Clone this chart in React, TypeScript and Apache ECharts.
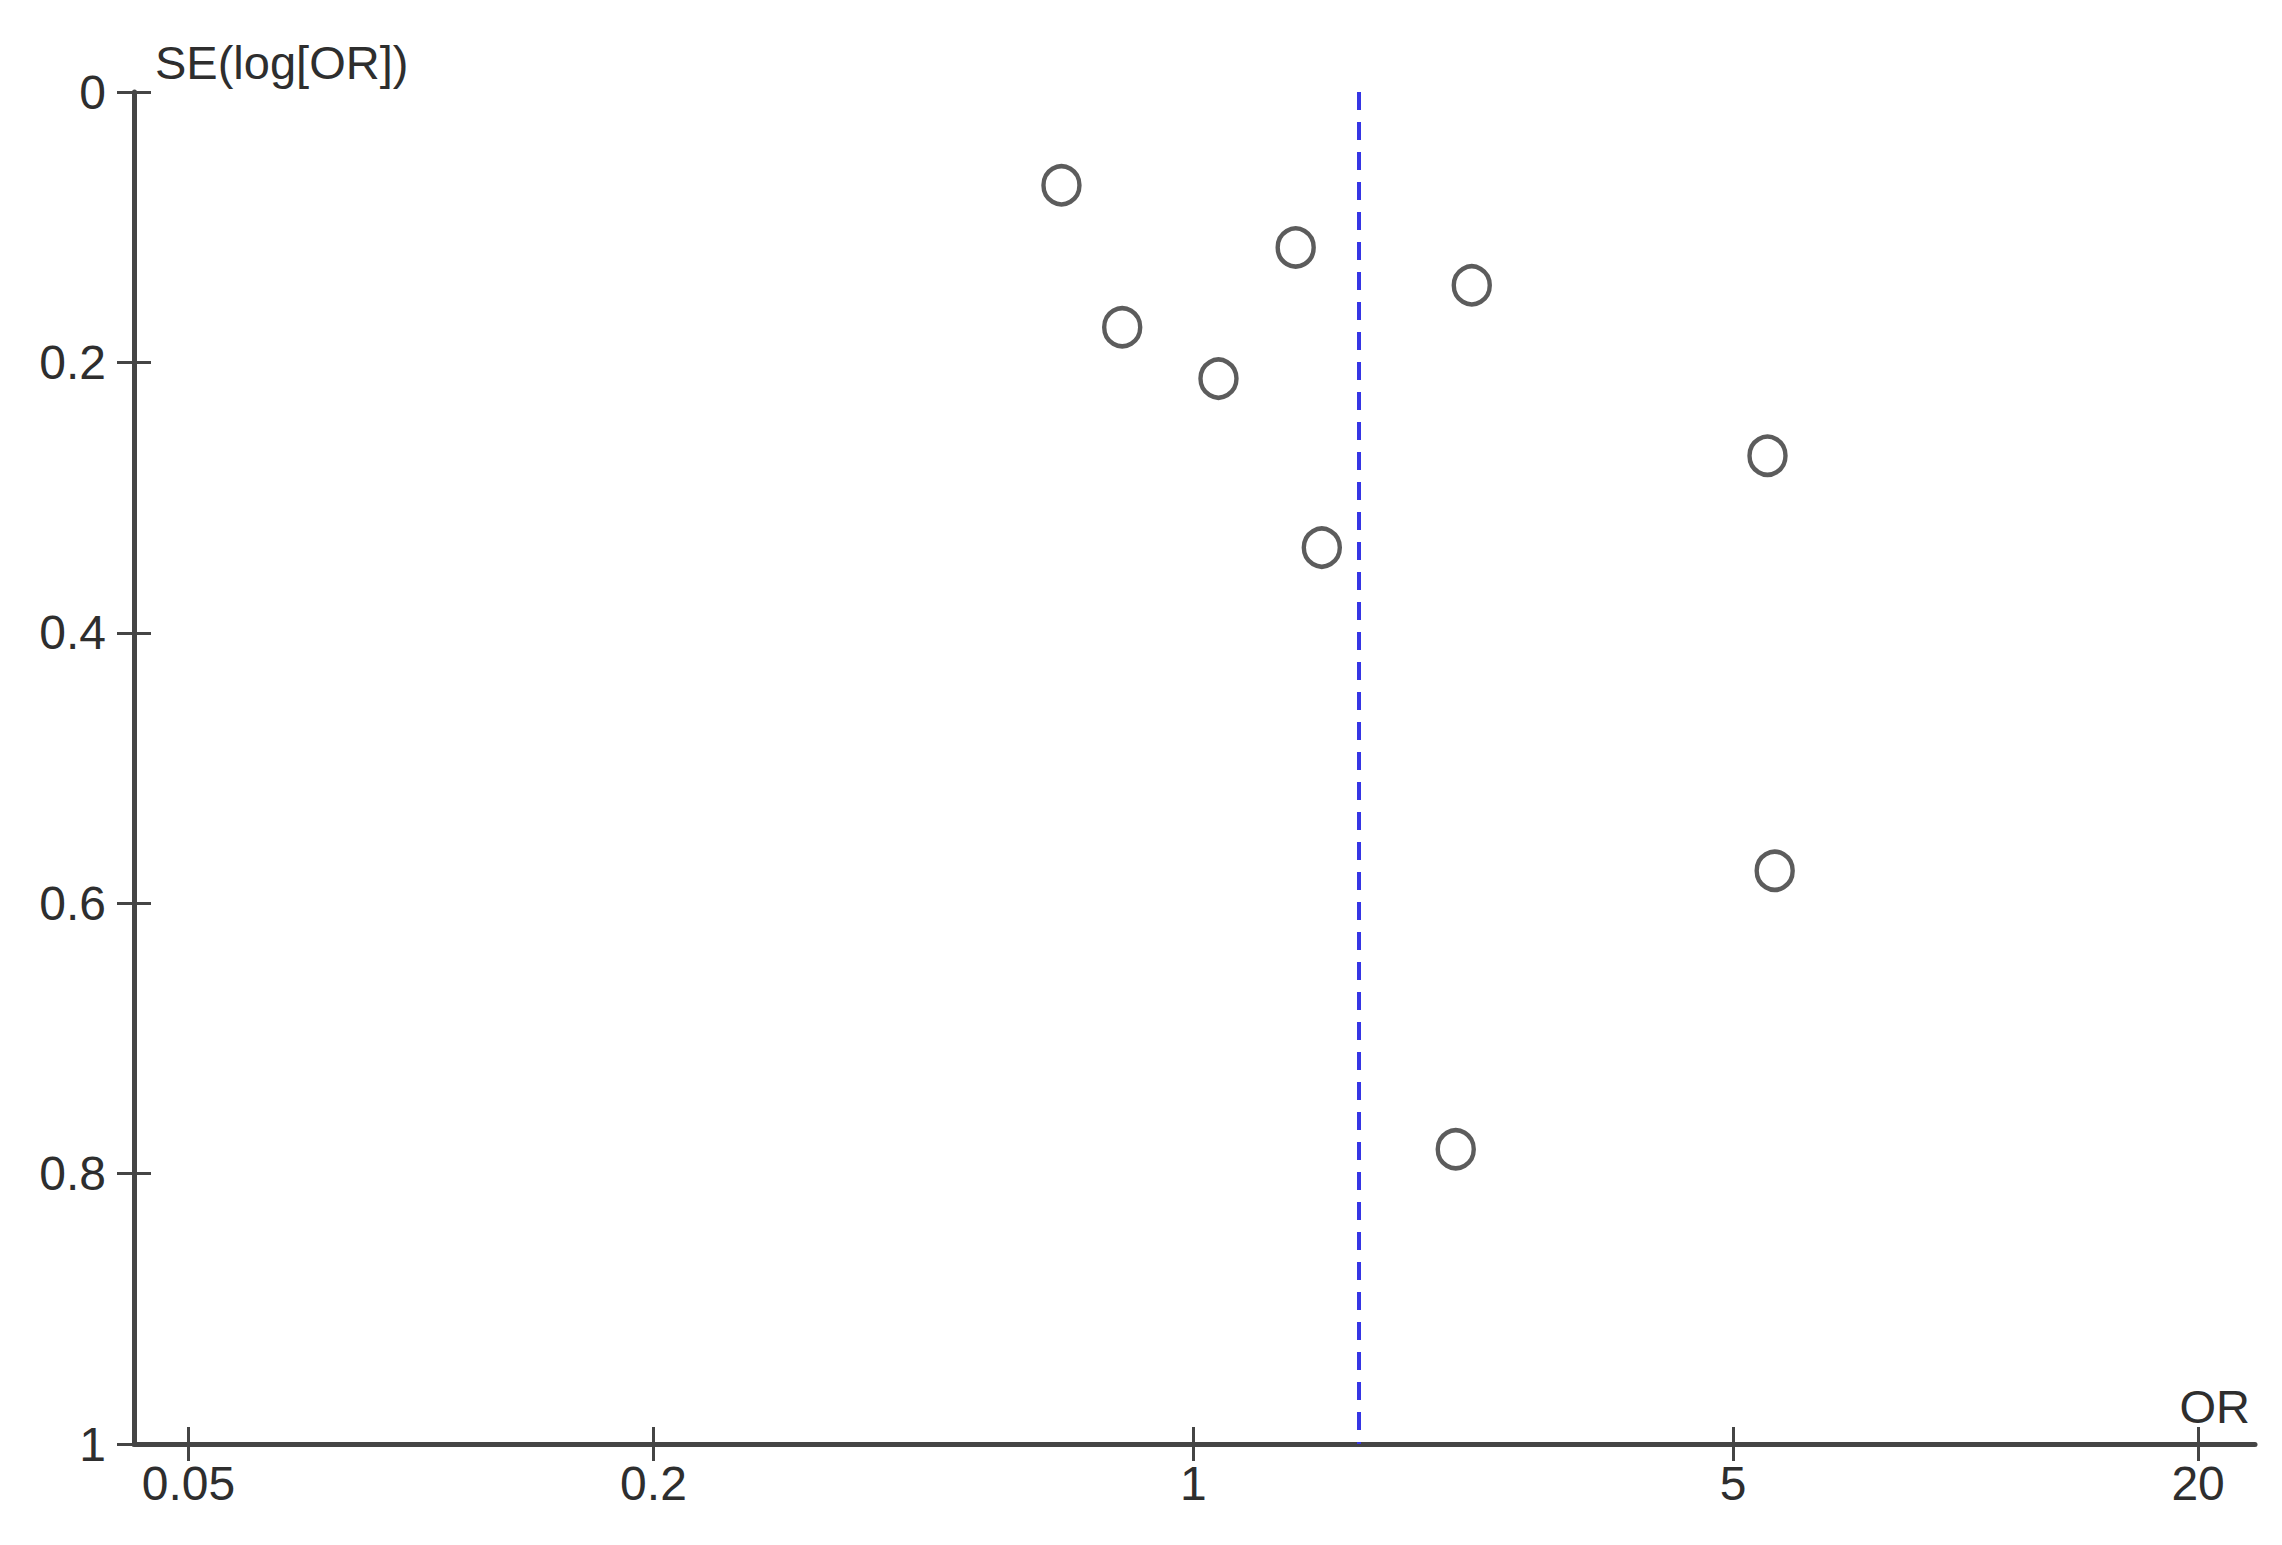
import React, { useEffect, useRef } from "react";
import * as echarts from "echarts";

// Study odds ratios (x) and standard errors of log OR (y)
const oddsRatios = [0.675, 1.357, 2.294, 0.809, 1.078, 5.54, 1.467, 5.66, 2.187];
const standardErrors = [0.069, 0.115, 0.143, 0.174, 0.212, 0.269, 0.337, 0.576, 0.782];
const pooledOR = 1.635;

const xTickValues = [0.05, 0.2, 1, 5, 20];
const xTickLabels = ["0.05", "0.2", "1", "5", "20"];

const FONT = "Liberation Sans, Arial, sans-serif";
const AXIS_COLOR = "#454545";
const TEXT_COLOR = "#2e2e2e";

function xLabel(v: number): string {
  let best = 0;
  let bd = Infinity;
  xTickValues.forEach((t, i) => {
    const d = Math.abs(Math.log(t) - Math.log(v));
    if (d < bd) {
      bd = d;
      best = i;
    }
  });
  return xTickLabels[best];
}

export default function App() {
  const ref = useRef<HTMLDivElement>(null);
  useEffect(() => {
    if (!ref.current) return;
    const chart = echarts.init(ref.current, null, { renderer: "svg" });
    const xBase = {
      type: "log",
      min: 0.0425,
      max: 23.7,
      position: "bottom",
      splitLine: { show: false },
      minorTick: { show: false },
    };
    const yBase = {
      type: "value",
      min: 0,
      max: 1,
      interval: 0.2,
      inverse: true,
      position: "left",
      splitLine: { show: false },
    };
    chart.setOption({
      animation: false,
      backgroundColor: "#ffffff",
      grid: { left: 134, right: 27, top: 92, bottom: 101, containLabel: false },
      xAxis: [
        {
          ...xBase,
          axisLine: { show: true, onZero: false, lineStyle: { color: AXIS_COLOR, width: 5 } },
          axisTick: {
            show: true,
            inside: false,
            length: 17,
            customValues: xTickValues,
            lineStyle: { color: AXIS_COLOR, width: 3 },
          },
          axisLabel: {
            show: true,
            customValues: xTickValues,
            formatter: (v: number) => xLabel(v),
            color: TEXT_COLOR,
            fontFamily: FONT,
            fontSize: 48,
            margin: 15,
          },
        },
        {
          ...xBase,
          axisLine: { show: false, onZero: false },
          axisTick: {
            show: true,
            inside: true,
            length: 17,
            customValues: xTickValues,
            lineStyle: { color: AXIS_COLOR, width: 3 },
          },
          axisLabel: { show: false },
        },
      ],
      yAxis: [
        {
          ...yBase,
          axisLine: { show: true, onZero: false, lineStyle: { color: AXIS_COLOR, width: 5 } },
          axisTick: { show: true, inside: false, length: 17, lineStyle: { color: AXIS_COLOR, width: 3 } },
          axisLabel: {
            show: true,
            color: TEXT_COLOR,
            fontFamily: FONT,
            fontSize: 48,
            margin: 28,
            formatter: (v: number) => String(Math.round(v * 10) / 10),
          },
        },
        {
          ...yBase,
          axisLine: { show: false, onZero: false },
          axisTick: { show: true, inside: true, length: 17, lineStyle: { color: AXIS_COLOR, width: 3 } },
          axisLabel: { show: false },
        },
      ],
      graphic: [
        {
          type: "text",
          x: 155,
          y: 62,
          style: {
            text: "SE(log[OR])",
            fill: TEXT_COLOR,
            font: `47px ${FONT}`,
            align: "left",
            verticalAlign: "middle",
          },
        },
        {
          type: "text",
          x: 2250,
          y: 1406,
          style: {
            text: "OR",
            fill: TEXT_COLOR,
            font: `47px ${FONT}`,
            align: "right",
            verticalAlign: "middle",
          },
        },
      ],
      series: [
        {
          type: "scatter",
          xAxisIndex: 0,
          yAxisIndex: 0,
          data: oddsRatios.map((o, i) => [o, standardErrors[i]]),
          symbol: "circle",
          symbolSize: [36, 38],
          itemStyle: { color: "rgba(255,255,255,0)", borderColor: "#333333", borderWidth: 4.5 },
          markLine: {
            silent: true,
            symbol: "none",
            label: { show: false },
            lineStyle: { color: "#3535e4", type: [18, 12], width: 4 },
            data: [{ xAxis: pooledOR }],
          },
          z: 3,
        },
      ],
    });
    return () => chart.dispose();
  }, []);
  return (
    <div
      ref={ref}
      style={{ position: "absolute", left: 0, top: 0, width: 2282, height: 1545, background: "#fff" }}
    />
  );
}
